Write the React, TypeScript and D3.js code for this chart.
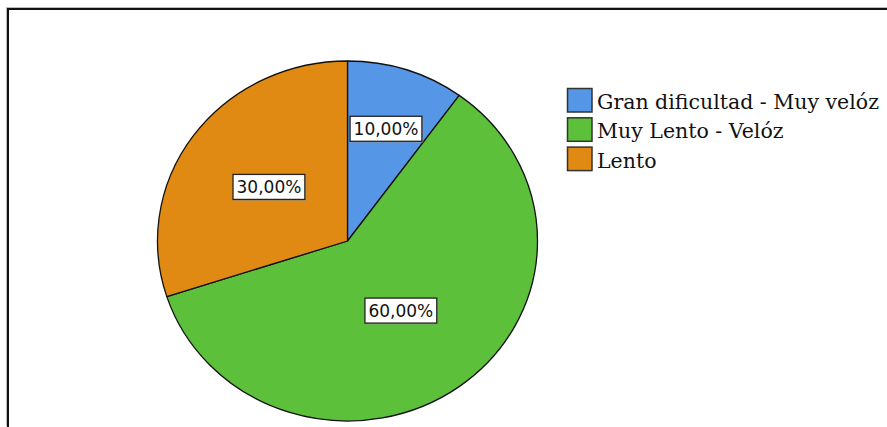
import React, { useEffect, useRef } from "react";
import * as d3 from "d3";

const categories = ["Gran dificultad - Muy velóz", "Muy Lento - Velóz", "Lento"];
const values = [10, 60, 30];
const labels = ["10,00%", "60,00%", "30,00%"];
const colors = ["#5596E6", "#5CC03B", "#E08A13"];
const labelRadius = [118, 86, 92];

const W = 887;
const H = 427;

export default function App() {
  const ref = useRef<SVGSVGElement>(null);

  useEffect(() => {
    const svg = d3.select(ref.current);
    svg.selectAll("*").remove();

    // frame
    svg.append("line").attr("x1", 7).attr("x2", W).attr("y1", 7.5).attr("y2", 7.5).attr("stroke", "#bbb").attr("stroke-width", 1);
    svg.append("line").attr("x1", 6.5).attr("x2", 6.5).attr("y1", 7).attr("y2", H - 1).attr("stroke", "#bbb").attr("stroke-width", 1);
    svg.append("rect").attr("x", 8).attr("y", 9).attr("width", W + 10).attr("height", H + 10)
      .attr("fill", "none").attr("stroke", "#111").attr("stroke-width", 2);

    const cx = 347.5, cy = 241, ry = 180, rx = 190;
    const sx = rx / ry;

    const pie = d3.pie<number>().sort(null).value((d) => d);
    const arcs = pie(values);
    const arc = d3.arc<d3.PieArcDatum<number>>().innerRadius(0).outerRadius(ry);

    const g = svg.append("g").attr("transform", `translate(${cx},${cy}) scale(${sx},1)`);
    g.selectAll("path")
      .data(arcs)
      .join("path")
      .attr("d", arc)
      .attr("fill", (_d, i) => colors[i])
      .attr("stroke", "#111")
      .attr("stroke-width", 1.3)
      .attr("stroke-linejoin", "round")
      .attr("vector-effect", "non-scaling-stroke");

    // labels
    const lg = svg.append("g").attr("transform", `translate(${cx},${cy})`);
    arcs.forEach((a, i) => {
      const la = d3.arc<d3.PieArcDatum<number>>().innerRadius(labelRadius[i]).outerRadius(labelRadius[i]);
      const [x0, y0] = la.centroid(a);
      const x = x0 * sx, y = y0;
      const t = lg.append("text")
        .attr("x", x).attr("y", y)
        .attr("text-anchor", "middle")
        .attr("dominant-baseline", "central")
        .attr("font-family", "DejaVu Sans, sans-serif")
        .attr("font-size", 17)
        .attr("fill", "#111")
        .text(labels[i]);
      const w = (t.node() as SVGTextElement).getComputedTextLength() + 7;
      const h = 25;
      lg.insert("rect", "text")
        .attr("x", x - w / 2 + 1.5).attr("y", y - h / 2 + 1.5).attr("width", w).attr("height", h)
        .attr("fill", "#999").attr("opacity", 0.5);
      lg.insert("rect", "text")
        .attr("x", x - w / 2).attr("y", y - h / 2).attr("width", w).attr("height", h)
        .attr("fill", "#fff").attr("stroke", "#222").attr("stroke-width", 1.3);
    });

    // legend
    const leg = svg.append("g").attr("transform", "translate(567,88)");
    categories.forEach((c, i) => {
      const y = i * 29.3;
      leg.append("rect").attr("x", 0.5).attr("y", y + 0.5).attr("width", 24.5).attr("height", 23.5)
        .attr("fill", colors[i]).attr("stroke", "#333").attr("stroke-width", 1.5);
      leg.append("text").attr("x", 30).attr("y", y + 21)
        .attr("font-family", "DejaVu Serif, serif")
        .attr("font-size", 20.5)
        .attr("fill", "#111")
        .text(c);
    });
  }, []);

  return (
    <svg
      ref={ref}
      width={W}
      height={H}
      style={{ position: "absolute", left: 0, top: 0, background: "#fff", display: "block" }}
    />
  );
}
